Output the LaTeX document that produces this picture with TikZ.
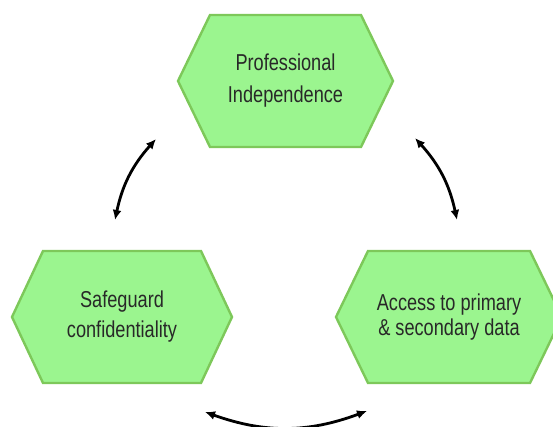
\documentclass[tikz,border=0pt]{standalone}
\usepackage{fontspec}
\setmainfont{Liberation Sans}[FakeStretch=0.79]
\usetikzlibrary{arrows.meta}
\definecolor{hexfill}{RGB}{155,245,143}
\definecolor{hexline}{RGB}{125,200,90}
\definecolor{txtcol}{RGB}{40,40,40}
\begin{document}
\begin{tikzpicture}[x=1pt,y=1pt,
  hexbox/.style={fill=hexfill,draw=hexline,line width=2.4pt,line join=miter},
  hextext/.style={align=center,text=txtcol,inner sep=0pt},
  cycarrow/.style={{Latex[length=10pt,width=9pt]}-{Latex[length=10pt,width=9pt]},line width=2.8pt,black}]
\useasboundingbox (0,0) rectangle (553,427);
% centres
\coordinate (ct) at (285.5,346);
\coordinate (cl) at (122,110);
\coordinate (cr) at (449,110);
% hexagons
\draw[hexbox] ([xshift=-107.5pt]ct) -- ++(32,66) -- ++(151,0) -- ++(32,-66) -- ++(-32,-66) -- ++(-151,0) -- cycle;
\draw[hexbox] ([xshift=-110pt]cl) -- ++(31,66) -- ++(158,0) -- ++(31,-66) -- ++(-31,-66) -- ++(-158,0) -- cycle;
\draw[hexbox] ([xshift=-113pt]cr) -- ++(32,66) -- ++(162,0) -- ++(32,-66) -- ++(-32,-66) -- ++(-162,0) -- cycle;
% texts
\node[hextext,font=\fontsize{23}{32}\selectfont] (top) at (ct) {Professional\\Independence};
\node[hextext,font=\fontsize{23}{30}\selectfont] (left) at (cl) {Safeguard\\confidentiality};
\node[hextext,font=\fontsize{23}{25}\selectfont] (right) at (cr) {Access to primary\\\& secondary data};
% arrow end points
\coordinate (a1) at (115,207);
\coordinate (a2) at (156,288);
\coordinate (b1) at (415,289);
\coordinate (b2) at (457,207);
\coordinate (c1) at (367,16);
\coordinate (c2) at (205,15);
\draw[cycarrow] (a1) to[bend left=15] (a2);
\draw[cycarrow] (b1) to[bend left=15] (b2);
\draw[cycarrow] (c1) to[bend left=20] (c2);
\end{tikzpicture}
\end{document}
